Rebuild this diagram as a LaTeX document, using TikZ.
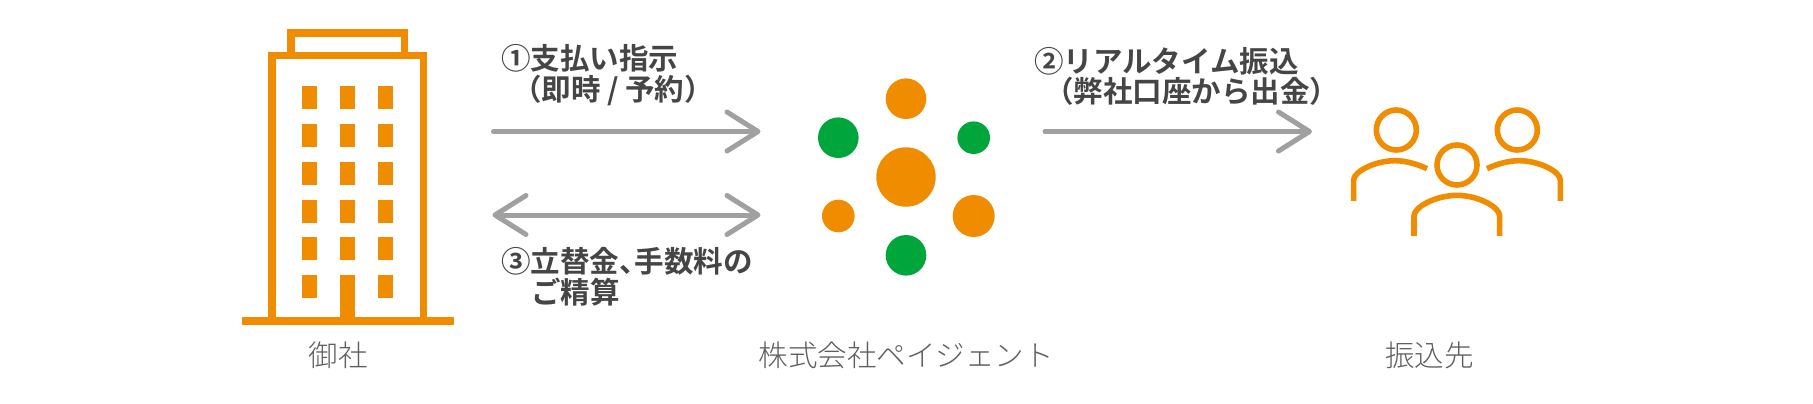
\documentclass[tikz,border=0pt]{standalone}
\usepackage{fontspec}
\usetikzlibrary{arrows.meta}
\newfontfamily\jpb{Noto Sans CJK JP Bold}
\newfontfamily\jpl{Noto Sans CJK JP Light}
\definecolor{brandorange}{HTML}{F08C00}
\definecolor{brandgreen}{HTML}{00A63C}
\definecolor{arrowgrey}{HTML}{A0A0A0}
\definecolor{labelgrey}{HTML}{5F5F5F}
\definecolor{boldgrey}{HTML}{454545}
\tikzset{
  outline/.style={draw=brandorange,line width=7.3pt,miter limit=10},
  stepnote/.style={text=boldgrey,inner sep=0pt,anchor=west,align=left,font=\jpb\fontsize{29.5}{30.8}\selectfont},
  party/.style={text=labelgrey,inner sep=0pt,anchor=center,font=\jpl\fontsize{29.5}{31}\selectfont},
  flow/.style={draw=arrowgrey,line width=5pt,line cap=round,line join=round},
  person/.style={draw=brandorange,line width=5.6pt},
  barb/.tip={Straight Barb[length=31pt,width=39pt,line width=5pt,round]}
}
\begin{document}
\begin{tikzpicture}[x=1pt,y=-1pt]
\useasboundingbox[fill=white] (0,0) rectangle (1813,404);
% building
\fill[brandorange] (241.7,316.7) rectangle (453.7,324.7);
\draw[outline] (271.9,321) -- (271.9,55.7) -- (423.6,55.7) -- (423.6,321);
\draw[outline] (291,52) -- (291,33) -- (404.6,33) -- (404.6,52);
\foreach \wy in {86,123.7,161.7,199.7,237.3,275.3}{
  \foreach \wx in {302.3,340.3,378.3}{
    \fill[brandorange] (\wx,\wy) rectangle ++(15,23);
  }
}
\fill[brandorange] (340.3,290) rectangle (355.3,318);
\node[party] (client) at (338,355) {御社};
% company mark
\fill[brandorange] (906,177) circle[radius=29.7];
\fill[brandorange] (906,98.7) circle[radius=20.3];
\fill[brandgreen] (838.3,137.7) circle[radius=20.3];
\fill[brandgreen] (973.7,137.7) circle[radius=16.3];
\fill[brandorange] (838.3,216) circle[radius=16.3];
\fill[brandorange] (973.7,216) circle[radius=21];
\fill[brandgreen] (906,255.3) circle[radius=20.3];
\node[party] (agent) at (906,355) {株式会社ペイジェント};
% people
\begin{scope}[shift={(1330,90)},x=0.33333pt,y=-0.33333pt]
  \draw[person] (199,120) circle[radius=60];
  \draw[person] (562,120) circle[radius=60];
  \draw[person] (381,225) circle[radius=60];
  \draw[person] (71,333) -- (71,270) .. controls (71,245) and (135,212) .. (195,212) .. controls (225,212) and (262,222) .. (291,236);
  \draw[person] (691,333) -- (691,270) .. controls (691,245) and (627,212) .. (567,212) .. controls (537,212) and (500,222) .. (471,236);
  \draw[person] (252,438) -- (252,378) .. controls (252,350) and (320,316) .. (381,316) .. controls (442,316) and (509,350) .. (509,378) -- (509,438);
\end{scope}
\node[party] (payee) at (1429.3,355) {振込先};
% arrows
\coordinate (a1s) at (493.5,131.5);
\coordinate (a1e) at (760.5,131.5);
\coordinate (a3s) at (492.5,215);
\coordinate (a3e) at (760.5,215);
\coordinate (a2s) at (1045,131.5);
\coordinate (a2e) at (1312,131.5);
\draw[flow,-{barb}] (a1s) -- (a1e);
\draw[flow,{barb}-{barb}] (a3s) -- (a3e);
\draw[flow,-{barb}] (a2s) -- (a2e);
% notes
\node[stepnote] (n1) at (501,75.5) {①支払い指示\\\hspace{11pt}（即時 / 予約）};
\node[stepnote] (n2) at (1034,76.5) {②リアルタイム振込\\\hspace{10pt}（弊社口座から出金）};
\node[stepnote] (n3) at (501,277) {③立替金、\hspace{-14pt}手数料の\\\hspace{30pt}ご精算};
\end{tikzpicture}
\end{document}
